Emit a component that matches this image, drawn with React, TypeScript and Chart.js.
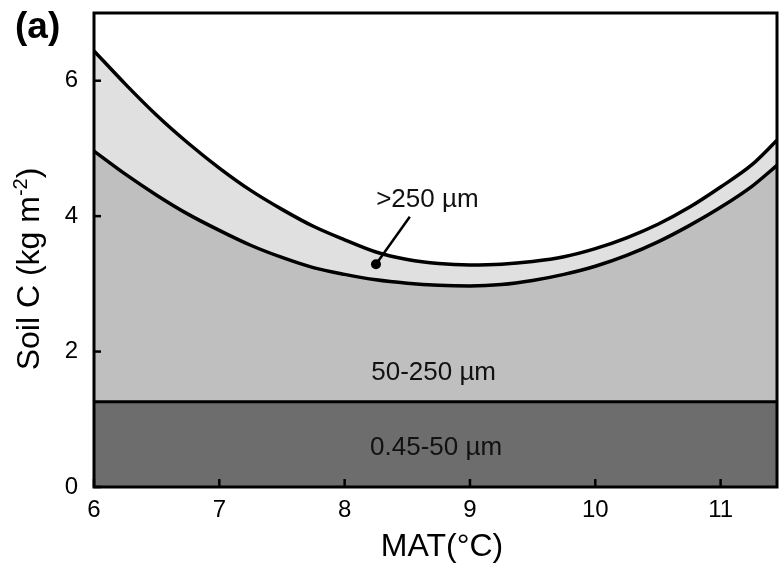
import React, { useEffect, useRef } from "react";
import { Chart, registerables } from "chart.js";

Chart.register(...registerables);

// Mean annual temperature (°C) sample positions
const matX = [6, 6.25, 6.5, 6.75, 7, 7.25, 7.5, 7.75, 8, 8.25, 8.5, 8.75, 9, 9.25, 9.5, 9.75, 10, 10.25, 10.5, 10.75, 11, 11.25, 11.45];
// Cumulative soil C (kg m-2): top of 0.45-50 µm band
const fineTop = [1.26, 1.26, 1.26, 1.26, 1.26, 1.26, 1.26, 1.26, 1.26, 1.26, 1.26, 1.26, 1.26, 1.26, 1.26, 1.26, 1.26, 1.26, 1.26, 1.26, 1.26, 1.26, 1.26];
// top of 50-250 µm band
const midTop = [4.96, 4.62, 4.31, 4.03, 3.79, 3.57, 3.39, 3.24, 3.14, 3.06, 3.01, 2.98, 2.97, 2.99, 3.05, 3.14, 3.26, 3.42, 3.62, 3.86, 4.13, 4.44, 4.75];
// top of >250 µm band
const coarseTop = [6.44, 5.95, 5.49, 5.08, 4.71, 4.38, 4.10, 3.85, 3.65, 3.47, 3.36, 3.30, 3.28, 3.29, 3.33, 3.40, 3.52, 3.68, 3.88, 4.13, 4.43, 4.76, 5.12];

const xTicks = [6, 7, 8, 9, 10, 11];
const yTicks = [0, 2, 4, 6];
const bandLabels = ["0.45-50 µm", "50-250 µm", ">250 µm"];
const panelLabel = "(a)";
const xTitle = "MAT(°C)";

const FONT = "'Liberation Sans', Arial, Helvetica, sans-serif";

export default function App() {
  const ref = useRef<HTMLCanvasElement>(null);

  useEffect(() => {
    document.body.style.margin = "0";
    const canvas = ref.current!;
    const pts = (ys: number[]) => matX.map((x, i) => ({ x, y: ys[i] }));

    const overlay = {
      id: "overlay",
      afterDraw(chart: any) {
        const { ctx, chartArea: a, scales } = chart;
        const xs = scales.x;
        const ys = scales.y;
        ctx.save();
        // frame
        ctx.strokeStyle = "#000";
        ctx.lineWidth = 3;
        ctx.strokeRect(a.left, a.top, a.right - a.left, a.bottom - a.top);
        // inward ticks
        ctx.lineWidth = 2.5;
        xTicks.forEach((v) => {
          const px = xs.getPixelForValue(v);
          ctx.beginPath();
          ctx.moveTo(px, a.bottom);
          ctx.lineTo(px, a.bottom - 8);
          ctx.stroke();
        });
        yTicks.forEach((v) => {
          const py = ys.getPixelForValue(v);
          ctx.beginPath();
          ctx.moveTo(a.left, py);
          ctx.lineTo(a.left + 7, py);
          ctx.stroke();
        });

        // band labels
        ctx.fillStyle = "#111";
        ctx.font = `26px ${FONT}`;
        ctx.textAlign = "center";
        ctx.textBaseline = "middle";
        ctx.fillText(bandLabels[0], xs.getPixelForValue(8.73), ys.getPixelForValue(0.58));
        ctx.fillText(bandLabels[1], xs.getPixelForValue(8.71), ys.getPixelForValue(1.69));
        ctx.fillText(bandLabels[2], xs.getPixelForValue(8.66), ys.getPixelForValue(4.24));

        // leader line + marker
        const mx = xs.getPixelForValue(8.25);
        const my = ys.getPixelForValue(3.29);
        ctx.lineWidth = 2.5;
        ctx.beginPath();
        ctx.moveTo(mx, my);
        ctx.lineTo(xs.getPixelForValue(8.52), ys.getPixelForValue(3.99));
        ctx.stroke();
        ctx.fillStyle = "#000";
        ctx.beginPath();
        ctx.arc(mx, my, 5, 0, Math.PI * 2);
        ctx.fill();

        // panel label
        ctx.font = `bold 37px ${FONT}`;
        ctx.textAlign = "left";
        ctx.textBaseline = "alphabetic";
        ctx.fillText(panelLabel, 15, 38);

        // x title
        ctx.font = `32px ${FONT}`;
        ctx.textAlign = "center";
        ctx.textBaseline = "middle";
        ctx.fillText(xTitle, 442, 547);

        // y title with superscript
        ctx.translate(28, 269);
        ctx.rotate(-Math.PI / 2);
        const main = "Soil C (kg m";
        const sup = "-2";
        const close = ")";
        ctx.font = `32px ${FONT}`;
        const w1 = ctx.measureText(main).width;
        const w3 = ctx.measureText(close).width;
        ctx.font = `20px ${FONT}`;
        const w2 = ctx.measureText(sup).width;
        const total = w1 + w2 + w3;
        let x0 = -total / 2;
        ctx.textAlign = "left";
        ctx.textBaseline = "alphabetic";
        ctx.font = `32px ${FONT}`;
        ctx.fillText(main, x0, 11);
        x0 += w1;
        ctx.font = `20px ${FONT}`;
        ctx.fillText(sup, x0, -1);
        x0 += w2;
        ctx.font = `32px ${FONT}`;
        ctx.fillText(close, x0, 11);
        ctx.restore();
      },
    };

    const chart = new Chart(canvas, {
      type: "line",
      data: {
        datasets: [
          {
            label: bandLabels[0],
            data: pts(fineTop),
            borderColor: "#000",
            borderWidth: 3,
            backgroundColor: "#6d6d6d",
            fill: "origin",
            pointRadius: 0,
            tension: 0,
          },
          {
            label: bandLabels[1],
            data: pts(midTop),
            borderColor: "#000",
            borderWidth: 3.5,
            backgroundColor: "#bfbfbf",
            fill: "-1",
            pointRadius: 0,
            cubicInterpolationMode: "monotone",
          },
          {
            label: bandLabels[2],
            data: pts(coarseTop),
            borderColor: "#000",
            borderWidth: 3.5,
            backgroundColor: "#e0e0e0",
            fill: "-1",
            pointRadius: 0,
            cubicInterpolationMode: "monotone",
          },
        ],
      },
      options: {
        responsive: false,
        animation: false,
        devicePixelRatio: 1,
        layout: { padding: { top: 13, right: 2, left: 0, bottom: 0 } },
        plugins: {
          legend: { display: false },
          tooltip: { enabled: false },
        },
        scales: {
          x: {
            type: "linear",
            min: 6,
            max: 11.45,
            grid: { display: false, drawTicks: false },
            border: { display: false },
            ticks: {
              color: "#000",
              font: { family: FONT, size: 24 },
              padding: 9,
              maxRotation: 0,
            },
            afterBuildTicks: (s: any) => {
              s.ticks = xTicks.map((v) => ({ value: v }));
            },
            afterFit: (s: any) => {
              s.height = 85;
              s.paddingLeft = 0;
              s.paddingRight = 0;
            },
          },
          y: {
            type: "linear",
            min: 0,
            max: 7,
            grid: { display: false, drawTicks: false },
            border: { display: false },
            ticks: {
              color: "#000",
              font: { family: FONT, size: 24 },
              padding: 16,
            },
            afterBuildTicks: (s: any) => {
              s.ticks = yTicks.map((v) => ({ value: v }));
            },
            afterFit: (s: any) => {
              s.width = 94;
              s.paddingTop = 0;
              s.paddingBottom = 0;
            },
          },
        },
      },
      plugins: [overlay],
    });

    return () => chart.destroy();
  }, []);

  return (
    <div style={{ width: 779, height: 572, background: "#fff" }}>
      <canvas ref={ref} width={779} height={572} style={{ display: "block" }} />
    </div>
  );
}
